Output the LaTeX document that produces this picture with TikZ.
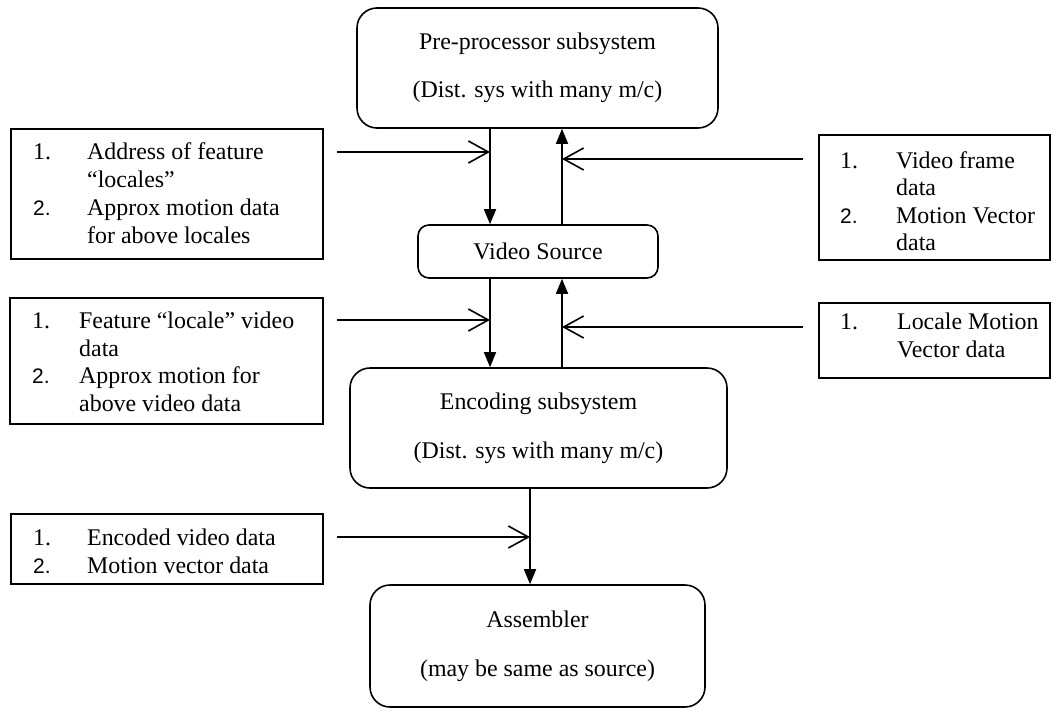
\documentclass[tikz,border=0pt]{standalone}
\usepackage{fontspec}
\setmainfont{Liberation Serif}
\newfontfamily\numfont{Liberation Sans}
\usetikzlibrary{arrows.meta}
\newcommand{\numtwo}{{\numfont\fontsize{21}{27.3}\selectfont 2.}}
\begin{document}
\begin{tikzpicture}[x=1pt,y=-1pt,
  every node/.style={font=\fontsize{23.9}{27.3}\selectfont},
  sysbox/.style={draw, line width=1.6pt, rounded corners=20pt, align=center, inner sep=0pt},
  listbox/.style={draw, line width=1.6pt, inner sep=0pt, anchor=north west},
  listtext/.style={anchor=north west, align=left, inner sep=0pt},
  flow/.style={line width=1.6pt, -{Triangle[length=15pt,width=12pt]}},
  feed/.style={line width=1.6pt, -{Straight Barb[length=20pt,width=22pt]}}]
\useasboundingbox (0,0) rectangle (1059,709);

% central boxes
\node[sysbox, minimum width=361pt, minimum height=120pt] (pre) at (537.5,68)
  {Pre-processor subsystem\\[20.5pt](Dist. sys with many m/c)};
\node[sysbox, rounded corners=11pt, minimum width=240pt, minimum height=53pt] (vs) at (538,251.5)
  {Video Source};
\node[sysbox, minimum width=377pt, minimum height=120pt] (enc) at (538.5,428)
  {Encoding subsystem\\[21.5pt](Dist. sys with many m/c)};
\node[sysbox, minimum width=335pt, minimum height=122pt] (asm) at (537.5,646)
  {Assembler\\[21.5pt](may be same as source)};

% left list boxes
\node[listbox, minimum width=312pt, minimum height=130pt] (l1) at (10,128) {};
\node[listtext, font=\fontsize{23.9}{28.2}\selectfont] (l1t) at (33,142)
  {\makebox[54pt][l]{1.}Address of feature\\
   \hspace*{54pt}“locales”\\
   \makebox[54pt][l]{\numtwo}Approx motion data\\
   \hspace*{54pt}for above locales};

\node[listbox, minimum width=313pt, minimum height=126pt] (l2) at (9,297) {};
\node[listtext, font=\fontsize{23.9}{27.5}\selectfont] (l2t) at (32,312)
  {\makebox[47pt][l]{1.}Feature “locale” video\\
   \hspace*{47pt}data\\
   \makebox[47pt][l]{\numtwo}Approx motion for\\
   \hspace*{47pt}above video data};

\node[listbox, minimum width=312pt, minimum height=70pt] (l3) at (10,513) {};
\node[listtext] (l3t) at (33,529)
  {\makebox[54pt][l]{1.}Encoded video data\\
   \makebox[54pt][l]{\numtwo}Motion vector data};

% right list boxes
\node[listbox, minimum width=231pt, minimum height=125pt] (r1) at (818,134) {};
\begin{scope}
\clip (818,134) rectangle (1049,250);
\node[listtext, font=\fontsize{23.9}{27.5}\selectfont] (r1t) at (840,151)
  {\makebox[56pt][l]{1.}Video frame\\
   \hspace*{56pt}data\\
   \makebox[56pt][l]{\numtwo}Motion Vector\\
   \hspace*{56pt}data};
\end{scope}

\node[listbox, minimum width=231pt, minimum height=75pt] (r2) at (818,302) {};
\node[listtext] (r2t) at (840,313)
  {\makebox[57pt][l]{1.}Locale Motion\\
   \hspace*{57pt}Vector data};

% connector columns
\coordinate (xl) at (490,0);
\coordinate (xr) at (562,0);
\coordinate (xe) at (530,0);

\draw[flow] (pre.south -| xl) -- (vs.north -| xl);
\draw[flow] (vs.north -| xr) -- (pre.south -| xr);
\draw[flow] (vs.south -| xl) -- (enc.north -| xl);
\draw[flow] (enc.north -| xr) -- (vs.south -| xr);
\draw[flow] (enc.south -| xe) -- (asm.north -| xe);

% feeding arrows
\coordinate (f1) at (337,152);
\coordinate (f2) at (803,159);
\coordinate (f3) at (337,320);
\coordinate (f4) at (803,327);
\coordinate (f5) at (337,537);
\draw[feed] (f1) -- (f1 -| xl);
\draw[feed] (f2) -- (f2 -| xr);
\draw[feed] (f3) -- (f3 -| xl);
\draw[feed] (f4) -- (f4 -| xr);
\draw[feed] (f5) -- (f5 -| xe);
\end{tikzpicture}
\end{document}
